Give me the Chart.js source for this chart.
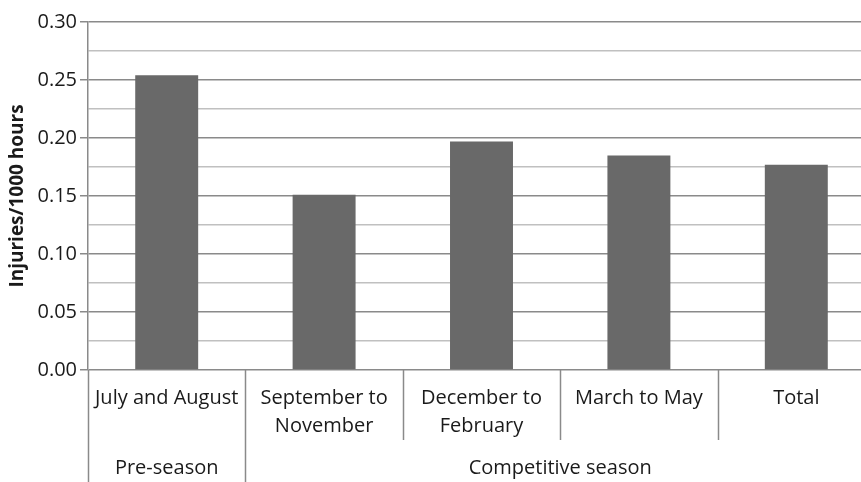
<!DOCTYPE html>
<html>
<head>
<meta charset="utf-8">
<script src="https://cdn.jsdelivr.net/npm/chart.js@4/dist/chart.umd.min.js"></script>
<style>
  html, body { margin: 0; padding: 0; background: #fff; }
  #wrap { width: 861px; height: 482px; overflow: hidden; position: relative; }
  #box { width: 875px; height: 482px; position: absolute; left: 0; top: 0; }
</style>
</head>
<body>
<div id="wrap"><div id="box"><canvas id="chart"></canvas></div></div>
<script>
// data
const categories = [['July and August'], ['September to', 'November'], ['December to', 'February'], ['March to May'], ['Total']];
const injuryRates = [0.254, 0.151, 0.197, 0.185, 0.177];
const groupLabels = ['Pre-season', 'Competitive season'];
const groupSizes = [1, 4];
const yTickValues = [0, 0.05, 0.1, 0.15, 0.2, 0.25, 0.3];

const FONT = '"Open Sans", "DejaVu Sans", sans-serif';
const TEXT = '#1a1a1a';
const SEP = '#8a8a8a';

function isMajor(v) {
  return yTickValues.some((t) => Math.abs(t - v) < 1e-6);
}

// separators under the axis and the second row of group labels
const groupRows = {
  id: 'groupRows',
  afterDraw(chart) {
    const ctx = chart.ctx;
    const x = chart.scales.x;
    const area = chart.chartArea;
    const half = (x.getPixelForValue(1) - x.getPixelForValue(0)) / 2;
    const bottom = chart.height;
    ctx.save();
    ctx.strokeStyle = SEP;
    ctx.lineWidth = 1.5;
    // boundaries between categories
    const groupEdges = [0];
    groupSizes.reduce((acc, n) => { groupEdges.push(acc + n); return acc + n; }, 0);
    for (let i = 0; i < categories.length; i++) {
      const bx = Math.round(x.getPixelForValue(i) - half) + 0.5;
      const long = groupEdges.includes(i);
      ctx.beginPath();
      ctx.moveTo(bx, area.bottom);
      ctx.lineTo(bx, long ? bottom : 440);
      ctx.stroke();
    }
    ctx.fillStyle = TEXT;
    ctx.font = '20px ' + FONT;
    ctx.textAlign = 'center';
    ctx.textBaseline = 'middle';
    let start = 0;
    groupLabels.forEach((lab, g) => {
      const end = start + groupSizes[g] - 1;
      const cx = (x.getPixelForValue(start) + x.getPixelForValue(end)) / 2;
      ctx.fillText(lab, cx, 468);
      start += groupSizes[g];
    });
    ctx.restore();
  }
};

new Chart(document.getElementById('chart'), {
  type: 'bar',
  data: {
    labels: categories,
    datasets: [{
      data: injuryRates,
      backgroundColor: '#696969',
      borderWidth: 0,
      barPercentage: 0.4,
      categoryPercentage: 1.0,
    }],
  },
  options: {
    responsive: true,
    maintainAspectRatio: false,
    animation: false,
    layout: { padding: { top: 22, right: 0, left: 0, bottom: 0 } },
    plugins: { legend: { display: false }, tooltip: { enabled: false } },
    scales: {
      x: {
        grid: { display: false, drawTicks: false },
        border: { display: false },
        ticks: {
          color: TEXT,
          font: { family: FONT, size: 20, lineHeight: 1.4 },
          padding: 14,
          maxRotation: 0,
          autoSkip: false,
        },
        afterFit(scale) { scale.height = 112; },
      },
      y: {
        min: 0,
        max: 0.3,
        ticks: {
          stepSize: 0.025,
          color: TEXT,
          font: { family: FONT, size: 20 },
          padding: 3,
          callback: (v) => (isMajor(v) ? v.toFixed(2) : ''),
        },
        grid: {
          color: (c) => (isMajor(c.tick.value) ? '#8a8a8a' : '#c0c0c0'),
          lineWidth: 1.5,
          tickLength: 8,
          tickColor: (c) => (isMajor(c.tick.value) ? '#8a8a8a' : 'rgba(0,0,0,0)'),
        },
        border: { display: true, color: SEP, width: 1.5 },
        title: {
          display: true,
          text: 'Injuries/1000 hours',
          color: TEXT,
          font: { family: FONT, size: 19, weight: 'bold' },
          padding: { top: 6, bottom: 0 },
        },
        afterFit(scale) { scale.width = 88; },
      },
    },
  },
  plugins: [groupRows],
});
</script>
</body>
</html>
